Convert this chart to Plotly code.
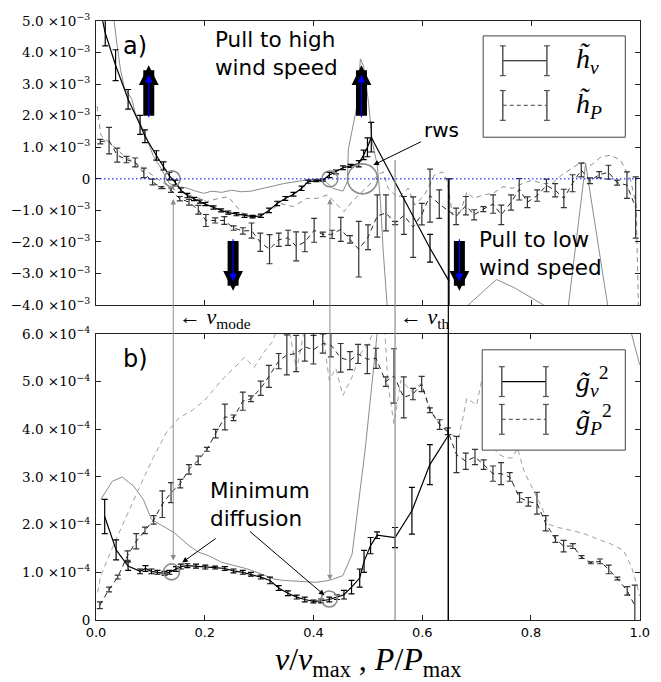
import plotly.graph_objects as go
import numpy as np

# ---------------- DATA (top panel in units of 1e-3, bottom panel in units of 1e-4) ----------------
hv_x = [0.005, 0.017, 0.036, 0.059, 0.081, 0.090, 0.111, 0.124, 0.135, 0.146, 0.156, 0.168, 0.180, 0.191,
        0.201, 0.216, 0.230, 0.243, 0.258, 0.273, 0.288, 0.303, 0.318, 0.333, 0.348, 0.363, 0.378, 0.390,
        0.405, 0.417, 0.429, 0.441, 0.454, 0.468, 0.483, 0.492, 0.499, 0.506, 0.614, 0.649]
hv_y = [5.6, 4.62, 3.6, 2.52, 1.71, 1.35, 0.74, 0.41, 0.09, -0.12, -0.36, -0.53, -0.64, -0.72,
        -0.80, -0.91, -1.0, -1.07, -1.12, -1.17, -1.2, -1.17, -1.0, -0.78, -0.62, -0.49, -0.30, -0.09,
        -0.06, -0.04, 0.12, 0.22, 0.35, 0.41, 0.48, 0.76, 1.0, 1.32, -2.2, -3.24]
hv_err = [0.5, 0.41, 0.49, 0.31, 0.3, 0.2, 0.15, 0.13, 0.12, 0.08, 0.07, 0.07, 0.05, 0.05,
          0.05, 0.05, 0.05, 0.05, 0.05, 0.05, 0.04, 0.05, 0.07, 0.07, 0.06, 0.06, 0.07, 0.05,
          0.03, 0.03, 0.08, 0.06, 0.06, 0.05, 0.1, 0.15, 0.3, 0.47, 0.44, 3.24]

hp_x = [0.008, 0.024, 0.039, 0.056, 0.072, 0.088, 0.104, 0.120, 0.138, 0.154, 0.171, 0.188, 0.202, 0.219,
        0.236, 0.253, 0.270, 0.286, 0.302, 0.319, 0.336, 0.353, 0.368, 0.384, 0.401, 0.417, 0.434, 0.450,
        0.467, 0.483, 0.500, 0.517, 0.533, 0.550, 0.566, 0.583, 0.599, 0.614, 0.631, 0.662, 0.680, 0.695,
        0.712, 0.730, 0.745, 0.763, 0.778, 0.793, 0.811, 0.828, 0.844, 0.860, 0.876, 0.892, 0.908, 0.925,
        0.942, 0.958, 0.976, 0.992]
hp_y = [1.18, 1.21, 0.75, 0.61, 0.52, 0.19, -0.1, -0.28, -0.36, -0.63, -0.74, -0.98, -1.32, -1.32,
        -1.32, -1.56, -1.65, -1.64, -2.01, -2.23, -1.93, -1.87, -2.14, -2.0, -1.63, -1.76, -1.76, -1.6,
        -1.92, -2.23, -1.85, -1.18, -1.08, -1.4, -1.16, -1.53, -1.12, -0.53, -0.8, -1.19, -0.85, -1.14,
        -0.96, -0.8, -1.14, -0.75, -0.33, -0.74, -0.53, -0.21, -0.36, -0.62, -0.14, 0.28, -0.06, 0.13,
        0.21, -0.12, -0.2, -0.91]
hp_err = [0.07, 0.42, 0.22, 0.1, 0.14, 0.15, 0.09, 0.03, 0.07, 0.07, 0.09, 0.14, 0.19, 0.08,
          0.12, 0.07, 0.1, 0.24, 0.29, 0.46, 0.21, 0.24, 0.46, 0.31, 0.38, 0.07, 0.13, 0.38,
          0.12, 0.88, 0.39, 0.67, 0.57, 0.05, 0.6, 0.96, 0.34, 0.84, 0.45, 0.26, 0.29, 0.16,
          0.08, 0.29, 0.31, 0.24, 0.34, 0.17, 0.18, 0.2, 0.21, 0.29, 0.27, 0.22, 0.09, 0.1,
          0.22, 0.08, 0.42, 0.97]

gs_top_x = [0.02, 0.033, 0.039, 0.045, 0.052, 0.066, 0.072, 0.081, 0.096, 0.105, 0.120, 0.135, 0.150,
            0.165, 0.183, 0.198, 0.213, 0.231, 0.249, 0.267, 0.285, 0.303, 0.318, 0.333, 0.345, 0.375,
            0.387, 0.417, 0.435, 0.454, 0.462, 0.464, 0.471, 0.481, 0.486, 0.492, 0.501, 0.508, 0.517,
            0.523, 0.528, 0.535, 0.55, 0.62, 0.736, 0.769, 0.823, 0.84, 0.865, 0.90, 0.945, 1.0]
gs_top_y = [6.5, 5.04, 4.2, 3.47, 2.89, 2.52, 2.1, 1.79, 1.16, 0.74, 0.32, -0.15, -0.25,
            -0.28, -0.39, -0.46, -0.39, -0.43, -0.36, -0.41, -0.39, -0.32, -0.25, -0.2, -0.15, -0.07,
            -0.04, 0.01, -0.3, -0.39, -0.09, 0.95, 1.58, 2.42, 3.8, 3.57, 2.42, 1.16, 0.43,
            -0.72, -2.3, -3.96, -5.0, -5.0, -3.19, -3.45, -4.0, -4.6, -4.5, 0.48, -4.5, -6.0]

gd_top_x = [0.002, 0.009, 0.027, 0.051, 0.075, 0.099, 0.120, 0.141, 0.162, 0.183, 0.204, 0.225, 0.243,
            0.261, 0.276, 0.291, 0.309, 0.327, 0.339, 0.363, 0.387, 0.405, 0.426, 0.441, 0.456, 0.471,
            0.489, 0.508, 0.518, 0.528, 0.537, 0.555, 0.574, 0.586, 0.604, 0.622, 0.637, 0.646, 0.655,
            0.670, 0.682, 0.694, 0.712, 0.730, 0.748, 0.766, 0.784, 0.802, 0.820, 0.838, 0.856, 0.874,
            0.892, 0.910, 0.928, 0.946, 0.964, 0.982, 0.993, 0.997]
gd_top_y = [2.3, 1.38, 1.11, 0.74, 0.48, 0.17, -0.09, -0.32, -0.46, -0.57, -0.72, -0.62, -0.57,
            -0.93, -1.19, -1.25, -1.14, -0.93, -0.78, -0.88, -0.62, -0.62, -0.51, -0.78, -1.04, -0.72,
            -0.41, -0.09, 0.12, 0.22, -0.3, -0.6, -0.3, -0.83, -0.51, 0.12, 0.22, -0.09, -1.14,
            -1.04, -0.41, -0.62, -0.51, -0.46, -0.25, -0.3, -0.15, -0.04, -0.15, -0.15, 0.12, 0.32,
            0.53, 0.43, 0.69, 0.75, 0.59, 0.01, -0.83, -4.0]

gv_x = [0.016, 0.037, 0.059, 0.081, 0.091, 0.102, 0.113, 0.126, 0.135, 0.147, 0.156, 0.168, 0.184, 0.201,
        0.219, 0.237, 0.253, 0.270, 0.285, 0.303, 0.320, 0.336, 0.353, 0.369, 0.384, 0.400, 0.414, 0.429,
        0.443, 0.456, 0.470, 0.485, 0.493, 0.505, 0.517, 0.550, 0.581, 0.614, 0.648]
gv_y = [2.17, 1.47, 1.13, 1.02, 1.08, 1.02, 1.0, 0.98, 1.0, 1.07, 1.12, 1.14, 1.13, 1.11,
        1.1, 1.08, 1.03, 1.0, 0.96, 0.9, 0.83, 0.67, 0.56, 0.48, 0.43, 0.39, 0.4, 0.43,
        0.48, 0.53, 0.69, 0.88, 1.23, 1.56, 1.78, 1.73, 2.29, 3.26, 3.87]
gv_err = [0.36, 0.21, 0.09, 0.05, 0.06, 0.05, 0.04, 0.04, 0.04, 0.05, 0.05, 0.04, 0.04, 0.04,
          0.03, 0.04, 0.04, 0.04, 0.04, 0.04, 0.07, 0.05, 0.05, 0.04, 0.05, 0.03, 0.04, 0.05,
          0.05, 0.09, 0.14, 0.19, 0.23, 0.17, 0.07, 0.21, 0.49, 0.42, 4.5]

gp_x = [0.007, 0.024, 0.040, 0.058, 0.074, 0.090, 0.106, 0.122, 0.138, 0.155, 0.171, 0.188, 0.204, 0.220,
        0.237, 0.253, 0.270, 0.285, 0.303, 0.318, 0.336, 0.351, 0.368, 0.384, 0.400, 0.417, 0.432, 0.450,
        0.467, 0.482, 0.499, 0.515, 0.533, 0.548, 0.566, 0.583, 0.599, 0.614, 0.632, 0.647, 0.663, 0.680,
        0.697, 0.713, 0.730, 0.745, 0.761, 0.779, 0.795, 0.811, 0.827, 0.845, 0.860, 0.877, 0.893, 0.910,
        0.927, 0.943, 0.959, 0.977, 0.991]
gp_y = [0.31, 0.64, 0.9, 1.35, 1.65, 1.88, 2.1, 2.43, 2.67, 2.86, 3.16, 3.35, 3.58, 3.91,
        4.26, 4.24, 4.59, 4.64, 4.86, 5.11, 5.43, 5.56, 5.59, 5.73, 5.67, 5.8, 5.77, 5.5,
        5.44, 5.58, 5.47, 5.49, 5.0, 5.12, 4.67, 4.74, 4.95, 4.4, 4.1, 3.96, 3.47, 3.33,
        3.42, 3.26, 3.07, 3.07, 3.0, 2.57, 2.48, 2.45, 2.03, 1.7, 1.55, 1.55, 1.32, 1.2,
        1.23, 1.06, 0.87, 0.61, 0.3]
gp_err = [0.07, 0.05, 0.04, 0.1, 0.16, 0.07, 0.09, 0.28, 0.21, 0.09, 0.1, 0.09, 0.04, 0.09,
          0.27, 0.06, 0.19, 0.06, 0.15, 0.23, 0.16, 0.42, 0.38, 0.3, 0.3, 0.2, 0.25, 0.3,
          0.19, 0.2, 0.3, 0.21, 0.1, 0.57, 0.43, 0.12, 0.16, 0.05, 0.1, 0.07, 0.38, 0.17,
          0.16, 0.1, 0.16, 0.23, 0.09, 0.1, 0.09, 0.23, 0.16, 0.07, 0.12, 0.05, 0.03, 0.02,
          0.05, 0.09, 0.03, 0.09, 0.43]

gs_bot_x = [0.009, 0.030, 0.048, 0.069, 0.087, 0.102, 0.123, 0.144, 0.171, 0.189, 0.207, 0.231, 0.255,
            0.279, 0.303, 0.327, 0.345, 0.375, 0.405, 0.429, 0.454, 0.471, 0.495, 0.517, 0.54, 0.96,
            0.985, 1.0]
gs_bot_y = [2.53, 2.91, 3.0, 2.81, 2.53, 2.11, 1.97, 1.83, 1.56, 1.42, 1.35, 1.21, 1.14,
            1.07, 0.97, 0.86, 0.83, 0.81, 0.79, 0.83, 0.93, 1.38, 3.57, 6.0, 8.5, 8.5,
            6.0, 5.35]

gd_bot_x = [0.003, 0.009, 0.036, 0.057, 0.081, 0.105, 0.129, 0.153, 0.177, 0.200, 0.231, 0.255, 0.273,
            0.291, 0.309, 0.324, 0.340, 0.355, 0.369, 0.385, 0.400, 0.415, 0.429, 0.441, 0.454, 0.471,
            0.487, 0.501, 0.515, 0.530, 0.537, 0.548, 0.561, 0.580, 0.598, 0.616, 0.631, 0.647, 0.667,
            0.682, 0.700, 0.714, 0.730, 0.742, 0.754, 0.766, 0.775, 0.787, 0.802, 0.820, 0.832, 0.850,
            0.874, 0.898, 0.922, 0.946, 0.970, 0.985, 0.994, 1.0]
gd_bot_y = [0.58, 0.94, 1.67, 2.22, 2.81, 3.4, 3.92, 4.24, 4.4, 4.61, 5.03, 5.3, 5.51,
            5.3, 5.62, 5.83, 6.3, 6.1, 5.24, 6.2, 6.4, 6.2, 5.03, 5.28, 4.71, 5.1,
            5.6, 5.79, 6.2, 6.3, 4.93, 4.12, 5.03, 4.8, 4.96, 4.4, 4.13, 3.92, 3.82,
            4.65, 4.51, 5.28, 3.61, 3.47, 3.4, 3.4, 3.61, 3.13, 2.78, 2.36, 2.01, 1.94,
            1.88, 1.81, 1.7, 1.6, 1.46, 1.11, 0.76, 0.5]

# marked points (circles)
circ_top_x = [0.14, 0.43]
circ_top_y = [0.0, 0.0]
rws_x = [0.49]
rws_y = [0.0]
circ_bot_x = [0.139, 0.429]
circ_bot_y = [1.01, 0.44]

top_ticks = [-4, -3, -2, -1, 0, 1, 2, 3, 4, 5]
bot_ticks = [0, 1, 2, 3, 4, 5, 6]
x_ticks = [0.0, 0.2, 0.4, 0.6, 0.8, 1.0]

v_mode = 0.142
v_min = 0.43
v_th = 0.55
v_last = 0.648

# ---------------- FIGURE ----------------
W, H = 661, 682
ML, MR, MT, MB = 95, 11, 17, 62
PW, PH = W - ML - MR, H - MT - MB


def px(x):
    return (x - ML) / PW


def py(y):
    return (H - MB - y) / PH


top_dom = [py(303), 1.0]
bot_dom = [0.0, py(332)]

GREY = '#8c8c8c'
SERIF = 'DejaVu Serif'
MATH = 'Liberation Serif'
SANS = 'DejaVu Sans'

fig = go.Figure()

# top panel
fig.add_trace(go.Scatter(x=gs_top_x, y=gs_top_y, mode='lines', line=dict(color=GREY, width=1),
                         xaxis='x', yaxis='y', hoverinfo='skip'))
fig.add_trace(go.Scatter(x=gd_top_x, y=gd_top_y, mode='lines', line=dict(color=GREY, width=1, dash='5px,4px'),
                         xaxis='x', yaxis='y', hoverinfo='skip'))
fig.add_trace(go.Scatter(x=hp_x, y=hp_y, mode='lines', line=dict(color='#222', width=1, dash='5px,4px'),
                         error_y=dict(type='data', array=hp_err, color='#333', thickness=1.2, width=3),
                         xaxis='x', yaxis='y'))
fig.add_trace(go.Scatter(x=hv_x, y=hv_y, mode='lines', line=dict(color='black', width=1.2),
                         error_y=dict(type='data', array=hv_err, color='black', thickness=1.2, width=3),
                         xaxis='x', yaxis='y'))
fig.add_trace(go.Scatter(x=circ_top_x, y=circ_top_y, mode='markers',
                         marker=dict(symbol='circle-open', size=16, color=GREY, line=dict(width=1.6)),
                         xaxis='x', yaxis='y'))
fig.add_trace(go.Scatter(x=rws_x, y=rws_y, mode='markers',
                         marker=dict(symbol='circle-open', size=30, color=GREY, line=dict(width=1.6)),
                         xaxis='x', yaxis='y'))

# bottom panel
fig.add_trace(go.Scatter(x=gs_bot_x, y=gs_bot_y, mode='lines', line=dict(color=GREY, width=1),
                         xaxis='x2', yaxis='y2', hoverinfo='skip'))
fig.add_trace(go.Scatter(x=gd_bot_x, y=gd_bot_y, mode='lines', line=dict(color='#a0a0a0', width=1, dash='5px,4px'),
                         xaxis='x2', yaxis='y2', hoverinfo='skip'))
fig.add_trace(go.Scatter(x=gp_x, y=gp_y, mode='lines', line=dict(color='#222', width=1, dash='5px,4px'),
                         error_y=dict(type='data', array=gp_err, color='#333', thickness=1.2, width=3),
                         xaxis='x2', yaxis='y2'))
fig.add_trace(go.Scatter(x=gv_x, y=gv_y, mode='lines', line=dict(color='black', width=1.2),
                         error_y=dict(type='data', array=gv_err, color='black', thickness=1.2, width=3),
                         xaxis='x2', yaxis='y2'))
fig.add_trace(go.Scatter(x=circ_bot_x, y=circ_bot_y, mode='markers',
                         marker=dict(symbol='circle-open', size=16, color=GREY, line=dict(width=1.6)),
                         xaxis='x2', yaxis='y2'))


def sci(v, e):
    if v == 0:
        return '0'
    s = '−' if v < 0 else ''
    return f'{s}{abs(v):.1f} ×10<sup>−{e}</sup>'


axis_common = dict(showgrid=False, zeroline=False, showline=True, linecolor='#222', linewidth=1,
                   mirror='allticks', ticks='inside', ticklen=5, tickwidth=1, tickcolor='#222')

fig.update_layout(
    width=W, height=H, margin=dict(l=ML, r=MR, t=MT, b=MB),
    paper_bgcolor='white', plot_bgcolor='white', showlegend=False,
    xaxis=dict(domain=[0, 1], range=[0, 1], anchor='y', tickvals=x_ticks, showticklabels=False, **axis_common),
    yaxis=dict(domain=top_dom, range=[-4.001, 5.001], anchor='x', tickvals=top_ticks,
               ticktext=[sci(t, 3) for t in top_ticks], tickfont=dict(family=SERIF, size=13.5, color='black'),
               ticklabelstandoff=2, **axis_common),
    xaxis2=dict(domain=[0, 1], range=[0, 1.0005], anchor='y2', tickvals=x_ticks,
                ticktext=[f'{t:.1f}' for t in x_ticks], tickfont=dict(family=SANS, size=13, color='black'),
                **axis_common),
    yaxis2=dict(domain=bot_dom, range=[0, 6.001], anchor='x2', tickvals=bot_ticks,
                ticktext=[sci(t, 4) for t in bot_ticks], tickfont=dict(family=SERIF, size=13.5, color='black'),
                ticklabelstandoff=2, **axis_common),
)

shapes = []
# blue dotted zero line (top)
shapes.append(dict(type='line', xref='x', yref='y', x0=0, x1=1, y0=0, y1=0,
                   line=dict(color='blue', width=1, dash='1.5px,2.5px')))
# vertical marker lines spanning the panels
shapes.append(dict(type='line', xref='x2', yref='paper', x0=v_th, x1=v_th, y0=py(157), y1=0,
                   line=dict(color=GREY, width=1.2)))
shapes.append(dict(type='line', xref='x2', yref='paper', x0=v_last, x1=v_last, y0=py(177), y1=0,
                   line=dict(color='black', width=1.2)))


# legends (drawn boxes)
def legend_box(x0, y0, x1, y1, rows, dashes):
    out = [dict(type='rect', xref='paper', yref='paper', x0=px(x0), x1=px(x1), y0=py(y1), y1=py(y0),
                line=dict(color='#444', width=1), fillcolor='white', layer='above')]
    for ry, dsh in zip(rows, dashes):
        out.append(dict(type='line', xref='paper', yref='paper', x0=px(x0 + 20), x1=px(x0 + 65), y0=py(ry), y1=py(ry),
                        line=dict(color='black' if dsh == 'solid' else '#666', width=1.2, dash=dsh)))
        for cx in (x0 + 20, x0 + 65):
            out.append(dict(type='line', xref='paper', yref='paper', x0=px(cx), x1=px(cx), y0=py(ry - 15), y1=py(ry + 15),
                            line=dict(color='#555', width=1.5)))
            out.append(dict(type='line', xref='paper', yref='paper', x0=px(cx - 3), x1=px(cx + 3), y0=py(ry - 15), y1=py(ry - 15),
                            line=dict(color='#555', width=1.2)))
            out.append(dict(type='line', xref='paper', yref='paper', x0=px(cx - 3), x1=px(cx + 3), y0=py(ry + 15), y1=py(ry + 15),
                            line=dict(color='#555', width=1.2)))
    return out


shapes += legend_box(490, 32, 635, 134, [57, 102], ['solid', '4px,3px'])
shapes += legend_box(489, 348, 635, 449, [380, 418], ['solid', '4px,3px'])
fig.update_layout(shapes=shapes)

ann = []


def text(x, y, s, size, family=SANS, xanchor='left'):
    ann.append(dict(xref='paper', yref='paper', x=px(x), y=py(y), text=s, showarrow=False,
                    xanchor=xanchor, yanchor='middle', align='left',
                    font=dict(family=family, size=size, color='black')))


text(121, 42, 'a)', 24)
text(121, 357, 'b)', 24)
text(214, 50, 'Pull to high<br>wind speed', 21.5)
text(428, 127, 'rws', 20)
text(484, 251, 'Pull to low<br>wind speed', 21.5)
text(209, 504, 'Minimum<br>diffusion', 21.5)
text(178, 316, '← <i>v</i><sub>mode</sub>', 22, MATH)
text(403, 316, '← <i>v</i><sub>th</sub>', 22, MATH)
text(583, 57, '<i>h̃</i><sub><i>v</i></sub>', 28, MATH)
text(583, 102, '<i>h̃</i><sub><i>P</i></sub>', 28, MATH)
text(583, 380, '<i>g̃</i><sub><i>v</i></sub><sup>2</sup>', 28, MATH)
text(583, 418, '<i>g̃</i><sub><i>P</i></sub><sup>2</sup>', 28, MATH)
text(372, 662, '<i>v</i>/<i>v</i><sub>max</sub> , <i>P</i>/<i>P</i><sub>max</sub>', 32, MATH, 'center')


def thin_arrow(tail, head, color='black', both=False):
    ann.append(dict(xref='paper', yref='paper', x=px(head[0]), y=py(head[1]), ax=tail[0] - head[0],
                    ay=tail[1] - head[1], axref='pixel', ayref='pixel', text='', showarrow=True,
                    arrowhead=2, arrowsize=1.1, arrowwidth=1, arrowcolor=color,
                    arrowside='end+start' if both else 'end', standoff=0, startstandoff=0))


thin_arrow((427, 138), (378, 162))
thin_arrow((218, 537), (183, 562))
thin_arrow((252, 530), (328, 595))
thin_arrow((95 + v_mode * PW, 197), (95 + v_mode * PW, 560), GREY, both=True)
thin_arrow((95 + v_min * PW, 197), (95 + v_min * PW, 580), GREY, both=True)

# thick "pull" arrows (data coords of the top panel)
for xa, y_tail, y_tip in [(0.097, 1.95, 3.6), (0.252, -1.92, -3.55), (0.488, 1.95, 3.6), (0.668, -1.92, -3.55)]:
    ann.append(dict(xref='x', yref='y', x=xa, y=y_tip, ax=xa, ay=y_tail, axref='x', ayref='y', text='',
                    showarrow=True, arrowhead=2, arrowsize=0.36, arrowwidth=11, arrowcolor='black', standoff=0))
    ann.append(dict(xref='x', yref='y', x=xa, y=y_tip - 0.3 * np.sign(y_tip), ax=xa, ay=y_tail - 0.05 * np.sign(y_tip),
                    axref='x', ayref='y', text='', showarrow=True, arrowhead=2, arrowsize=1.3, arrowwidth=1.2,
                    arrowcolor='blue', standoff=0))

fig.update_layout(annotations=ann)
fig.write_html('out.html')
